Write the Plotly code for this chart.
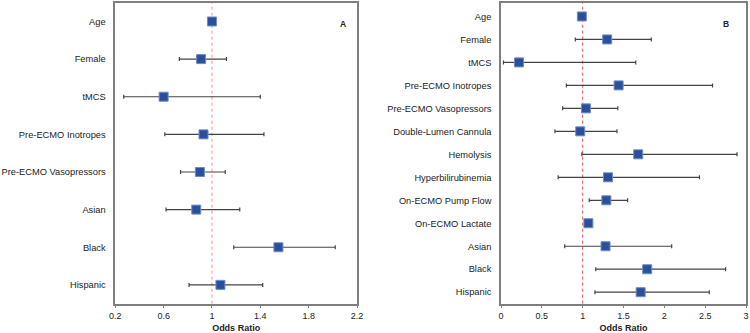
import plotly.graph_objects as go

# Panel A data
a_labels = ["Age", "Female", "tMCS", "Pre-ECMO Inotropes", "Pre-ECMO Vasopressors", "Asian", "Black", "Hispanic"]
a_or = [1.00, 0.91, 0.60, 0.93, 0.90, 0.87, 1.55, 1.07]
a_lo = [0.99, 0.73, 0.27, 0.61, 0.74, 0.62, 1.18, 0.81]
a_hi = [1.01, 1.12, 1.40, 1.43, 1.11, 1.23, 2.02, 1.42]

# Panel B data
b_labels = ["Age", "Female", "tMCS", "Pre-ECMO Inotropes", "Pre-ECMO Vasopressors", "Double-Lumen Cannula",
            "Hemolysis", "Hyperbilirubinemia", "On-ECMO Pump Flow", "On-ECMO Lactate", "Asian", "Black", "Hispanic"]
b_or = [0.99, 1.30, 0.22, 1.44, 1.04, 0.97, 1.68, 1.31, 1.29, 1.07, 1.28, 1.79, 1.71]
b_lo = [0.98, 0.91, 0.03, 0.80, 0.755, 0.66, 0.99, 0.70, 1.08, 1.05, 0.78, 1.16, 1.15]
b_hi = [1.00, 1.84, 1.65, 2.59, 1.43, 1.42, 2.89, 2.43, 1.55, 1.09, 2.09, 2.75, 2.55]

a_ticks = [0.2, 0.6, 1, 1.4, 1.8, 2.2]
b_ticks = [0, 0.5, 1, 1.5, 2, 2.5, 3]

FONT = "Liberation Sans, Arial, sans-serif"
MARK = "#2B4F9A"

fig = go.Figure()

def add_panel(labels, orv, lo, hi, xa, ya):
    fig.add_trace(go.Scatter(
        x=orv, y=list(range(len(labels))), mode="markers",
        marker=dict(symbol="square", size=9, color=MARK, line=dict(color="#6F8CC8", width=1)),
        error_x=dict(type="data", symmetric=False,
                     array=[h - o for h, o in zip(hi, orv)],
                     arrayminus=[o - l for o, l in zip(orv, lo)],
                     color="#444444", thickness=1.2, width=2),
        xaxis=xa, yaxis=ya, showlegend=False, cliponaxis=False))

add_panel(a_labels, a_or, a_lo, a_hi, "x", "y")
add_panel(b_labels, b_or, b_lo, b_hi, "x2", "y2")

axis_common = dict(showline=True, linecolor="#7f7f7f", linewidth=1.5, mirror=True, automargin=False,
                   showgrid=False, zeroline=False)
xtick_font = dict(family=FONT, size=9, color="#222")
ytick_font = dict(family=FONT, size=9.3, color="#222")
title_font = dict(family=FONT, size=9, color="#222")

fig.update_layout(
    width=750, height=333, margin=dict(l=0, r=0, t=0, b=0, autoexpand=False),
    plot_bgcolor="white", paper_bgcolor="white",
    xaxis=dict(domain=[0.1537, 0.476], range=[0.2, 2.2], tickvals=a_ticks, ticktext=[str(t) for t in a_ticks],
               ticks="outside", ticklen=3, tickcolor="#7f7f7f", anchor="y", tickfont=xtick_font,
               title=dict(text="<b>Odds Ratio</b>", font=title_font, standoff=4),
               **axis_common),
    yaxis=dict(domain=[0.088, 0.992], range=[7.5, -0.5], tickvals=list(range(len(a_labels))), ticktext=a_labels,
               ticks="", ticklabelstandoff=6, anchor="x", tickfont=ytick_font, **axis_common),
    xaxis2=dict(domain=[0.668, 0.9947], range=[0, 3], tickvals=b_ticks, ticktext=[str(t) for t in b_ticks],
                ticks="outside", ticklen=3, tickcolor="#7f7f7f", anchor="y2", tickfont=xtick_font,
                title=dict(text="<b>Odds Ratio</b>", font=title_font, standoff=4),
                **axis_common),
    yaxis2=dict(domain=[0.088, 0.992], range=[12.5, -0.6], tickvals=list(range(len(b_labels))), ticktext=b_labels,
                ticks="", ticklabelstandoff=6, anchor="x2", tickfont=ytick_font, **axis_common),
)

# Reference lines at OR = 1
fig.add_shape(type="line", xref="x", yref="y domain", x0=1, x1=1, y0=0, y1=1,
              line=dict(color="rgba(245,150,150,0.55)", width=2, dash="dot"), layer="below")
fig.add_shape(type="line", xref="x2", yref="y2 domain", x0=1, x1=1, y0=0, y1=1,
              line=dict(color="rgba(230,60,60,0.9)", width=1, dash="dot"), layer="below")

fig.add_annotation(text="<b>A</b>", xref="paper", yref="paper", x=343/750, y=1-17/333,
                   showarrow=False, font=dict(family=FONT, size=8.5, color="#222"))
fig.add_annotation(text="<b>B</b>", xref="paper", yref="paper", x=731/750, y=1-17/333,
                   showarrow=False, font=dict(family=FONT, size=8.5, color="#222"))

fig.write_html("out.html", config={"displayModeBar": False},
               post_script="document.body.style.margin='0';document.body.style.overflow='hidden';")
